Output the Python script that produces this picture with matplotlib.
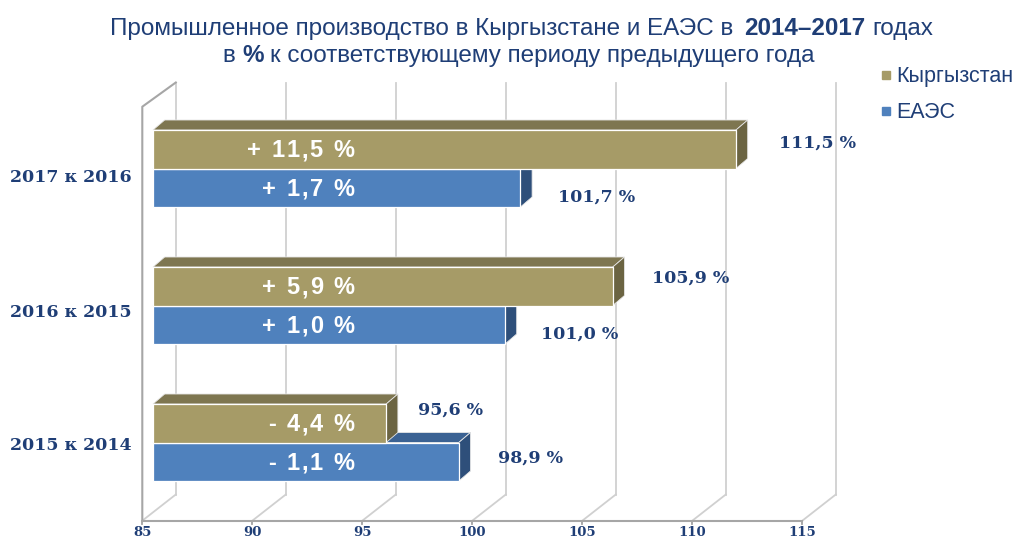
import numpy as np
import matplotlib
matplotlib.use('Agg')
import matplotlib.pyplot as plt
from matplotlib.patches import Polygon
from matplotlib.lines import Line2D
from matplotlib import font_manager as fm
from matplotlib.font_manager import FontProperties
from matplotlib.ft2font import FT2Font

# data, top to bottom as in the picture
periods = ['2017 к 2016', '2016 к 2015', '2015 к 2014']
kyrgyzstan = [111.5, 105.9, 95.6]
eaeu = [101.7, 101.0, 98.9]
series_names = ['Кыргызстан', 'ЕАЭС']
ticks = [85, 90, 95, 100, 105, 110, 115]
base = 100

navy = '#1F3E76'
olive = ('#A69B67', '#7E7650', '#6B6442')   # front, top, side
blue = ('#4F81BD', '#3B6293', '#2E4F7A')

W, H = 1022, 536
PX = 22.0                 # pixels per percentage point
X0 = ticks[0] - 142.3 / PX

fig = plt.figure(figsize=(W / 100, H / 100), dpi=100)
ax = fig.add_axes([0, 0, 1, 1])
ax.set_xlim(X0, X0 + W / PX)
ax.set_ylim(H, 0)
ax.axis('off')


def px2x(px):
    return X0 + px / PX


def advance(s, prop):
    # sum of glyph advances in pixels (100 dpi)
    font = FT2Font(fm.findfont(prop))
    font.set_size(prop.get_size_in_points(), 100)
    return sum(font.load_char(ord(c)).linearHoriAdvance for c in s) / 65536


def rich_line(cx_px, y, parts, size, family, color):
    props = [FontProperties(family=family, weight=w, size=size) for _, w in parts]
    widths = [advance(s, p) for (s, _), p in zip(parts, props)]
    x = cx_px - sum(widths) / 2
    for (s, _), p, wd in zip(parts, props, widths):
        lead = advance(s[:len(s) - len(s.lstrip())], p)
        ax.text(px2x(x + lead), y, s.strip(), fontproperties=p, color=color,
                ha='left', va='baseline')
        x += wd


def tracked(right_px, y, s, prop, track, color):
    advs = [advance(c, prop) for c in s]
    x = right_px - (sum(advs) + track * (len(s) - 1))
    for c, a in zip(s, advs):
        if c != ' ':
            ax.text(px2x(x + a / 2), y, c, fontproperties=prop, color=color,
                    ha='center', va='baseline', zorder=10)
        x += a + track


# walls and floor
floor_y, back_bot, back_top = 520.7, 494.5, 82.5
wall_dx = 33.5 / PX
tick_font = FontProperties(family='DejaVu Serif', weight='bold', size=9.5)
for t in ticks:
    ax.plot([t + wall_dx] * 2, [back_top, back_bot], color='#D0D0D0', lw=1.3, zorder=1)
    ax.plot([t, t + wall_dx], [floor_y, back_bot], color='#D0D0D0', lw=1.3, zorder=1)
    ax.plot([t, t], [floor_y, floor_y + 3], color='#A0A0A0', lw=1.3, zorder=1)
    ax.text(t, 526.5, str(t), fontproperties=tick_font, color=navy, ha='center', va='top')
ax.plot([ticks[0], ticks[-1]], [floor_y] * 2, color='#A6A6A6', lw=1.5, zorder=1)
ax.plot([ticks[0], ticks[0], ticks[0] + wall_dx], [floor_y, 106.7, back_top],
        color='#A6A6A6', lw=1.5, zorder=1)

# 3d bars
off = 10.7 / PX
bdx, bdy, bh = 11.7 / PX, 10, 38.5


def bar3d(v, top, cols, z):
    front, topc, side = cols
    x0, x1 = ticks[0] + off, v + off
    bot = top + bh
    ax.add_patch(Polygon([(x0, top), (x1, top), (x1 + bdx, top - bdy), (x0 + bdx, top - bdy)],
                         fc=topc, ec='#E6E6E6', lw=0.6, zorder=z))
    ax.add_patch(Polygon([(x1, top), (x1 + bdx, top - bdy), (x1 + bdx, bot - bdy), (x1, bot)],
                         fc=side, ec='#E6E6E6', lw=0.6, zorder=z))
    ax.add_patch(Polygon([(x0, top), (x1, top), (x1, bot), (x0, bot)],
                         fc=front, ec='white', lw=0.9, zorder=z + 0.5))


centers = [168.5 + 137 * i for i in range(len(periods))]
cat_dy = [9, 7, 2.5]
kg_dy, kg_gap = [-6, -8, -13], [31, 27, 20]
ea_dy, ea_gap = [9, 9, -4], [26, 24, 28]

inner_font = FontProperties(family='Liberation Sans', weight='bold', size=17)
value_font = FontProperties(family='DejaVu Serif', weight='bold', size=12.5)


def fmt_change(v):
    d = v - base
    return '{} {} %'.format('+' if d > 0 else '-', ('%.1f' % abs(d)).replace('.', ','))


for i, c in enumerate(centers):
    bar3d(eaeu[i], c, blue, 3)
    bar3d(kyrgyzstan[i], c - bh, olive, 4)

    tracked(354, c - bh / 2 + 8, fmt_change(kyrgyzstan[i]), inner_font, 1.8, 'white')
    tracked(354, c + bh / 2 + 8, fmt_change(eaeu[i]), inner_font, 1.8, 'white')

    ax.text(kyrgyzstan[i] + off + bdx + kg_gap[i] / PX, c - bh / 2 + kg_dy[i],
            ('%.1f %%' % kyrgyzstan[i]).replace('.', ','), fontproperties=value_font,
            color=navy, ha='left', va='center')
    ax.text(eaeu[i] + off + bdx + ea_gap[i] / PX, c + bh / 2 + ea_dy[i],
            ('%.1f %%' % eaeu[i]).replace('.', ','), fontproperties=value_font,
            color=navy, ha='left', va='center')

    ax.text(px2x(71), c + cat_dy[i], periods[i], fontproperties=value_font,
            color=navy, ha='center', va='center')

# title
names = {f.name for f in fm.fontManager.ttflist}
title_family = 'Liberation Sans Narrow' if 'Liberation Sans Narrow' in names else 'Liberation Sans'
rich_line(522, 35, [('Промышленное производство в Кыргызстане и ЕАЭС в', 'normal'),
                    (' 2014–2017', 'bold'), (' годах', 'normal')], 17.5, title_family, navy)
rich_line(522, 62, [('в ', 'normal'), ('%', 'bold'),
                    (' к соответствующему периоду предыдущего года', 'normal')],
          17.5, title_family, navy)

# legend
handles = [Line2D([], [], marker='s', ls='none', color=olive[0], markersize=6),
           Line2D([], [], marker='s', ls='none', color=blue[0], markersize=6)]
ax.legend(handles, series_names, loc='upper left', bbox_to_anchor=(861 / W, 1 - 47 / H),
          bbox_transform=fig.transFigure, frameon=False, handlelength=0.5,
          handletextpad=0.25, labelspacing=0.7, labelcolor=navy,
          prop=FontProperties(family='Liberation Sans', size=15.5))

fig.savefig('out.png', dpi=100)
